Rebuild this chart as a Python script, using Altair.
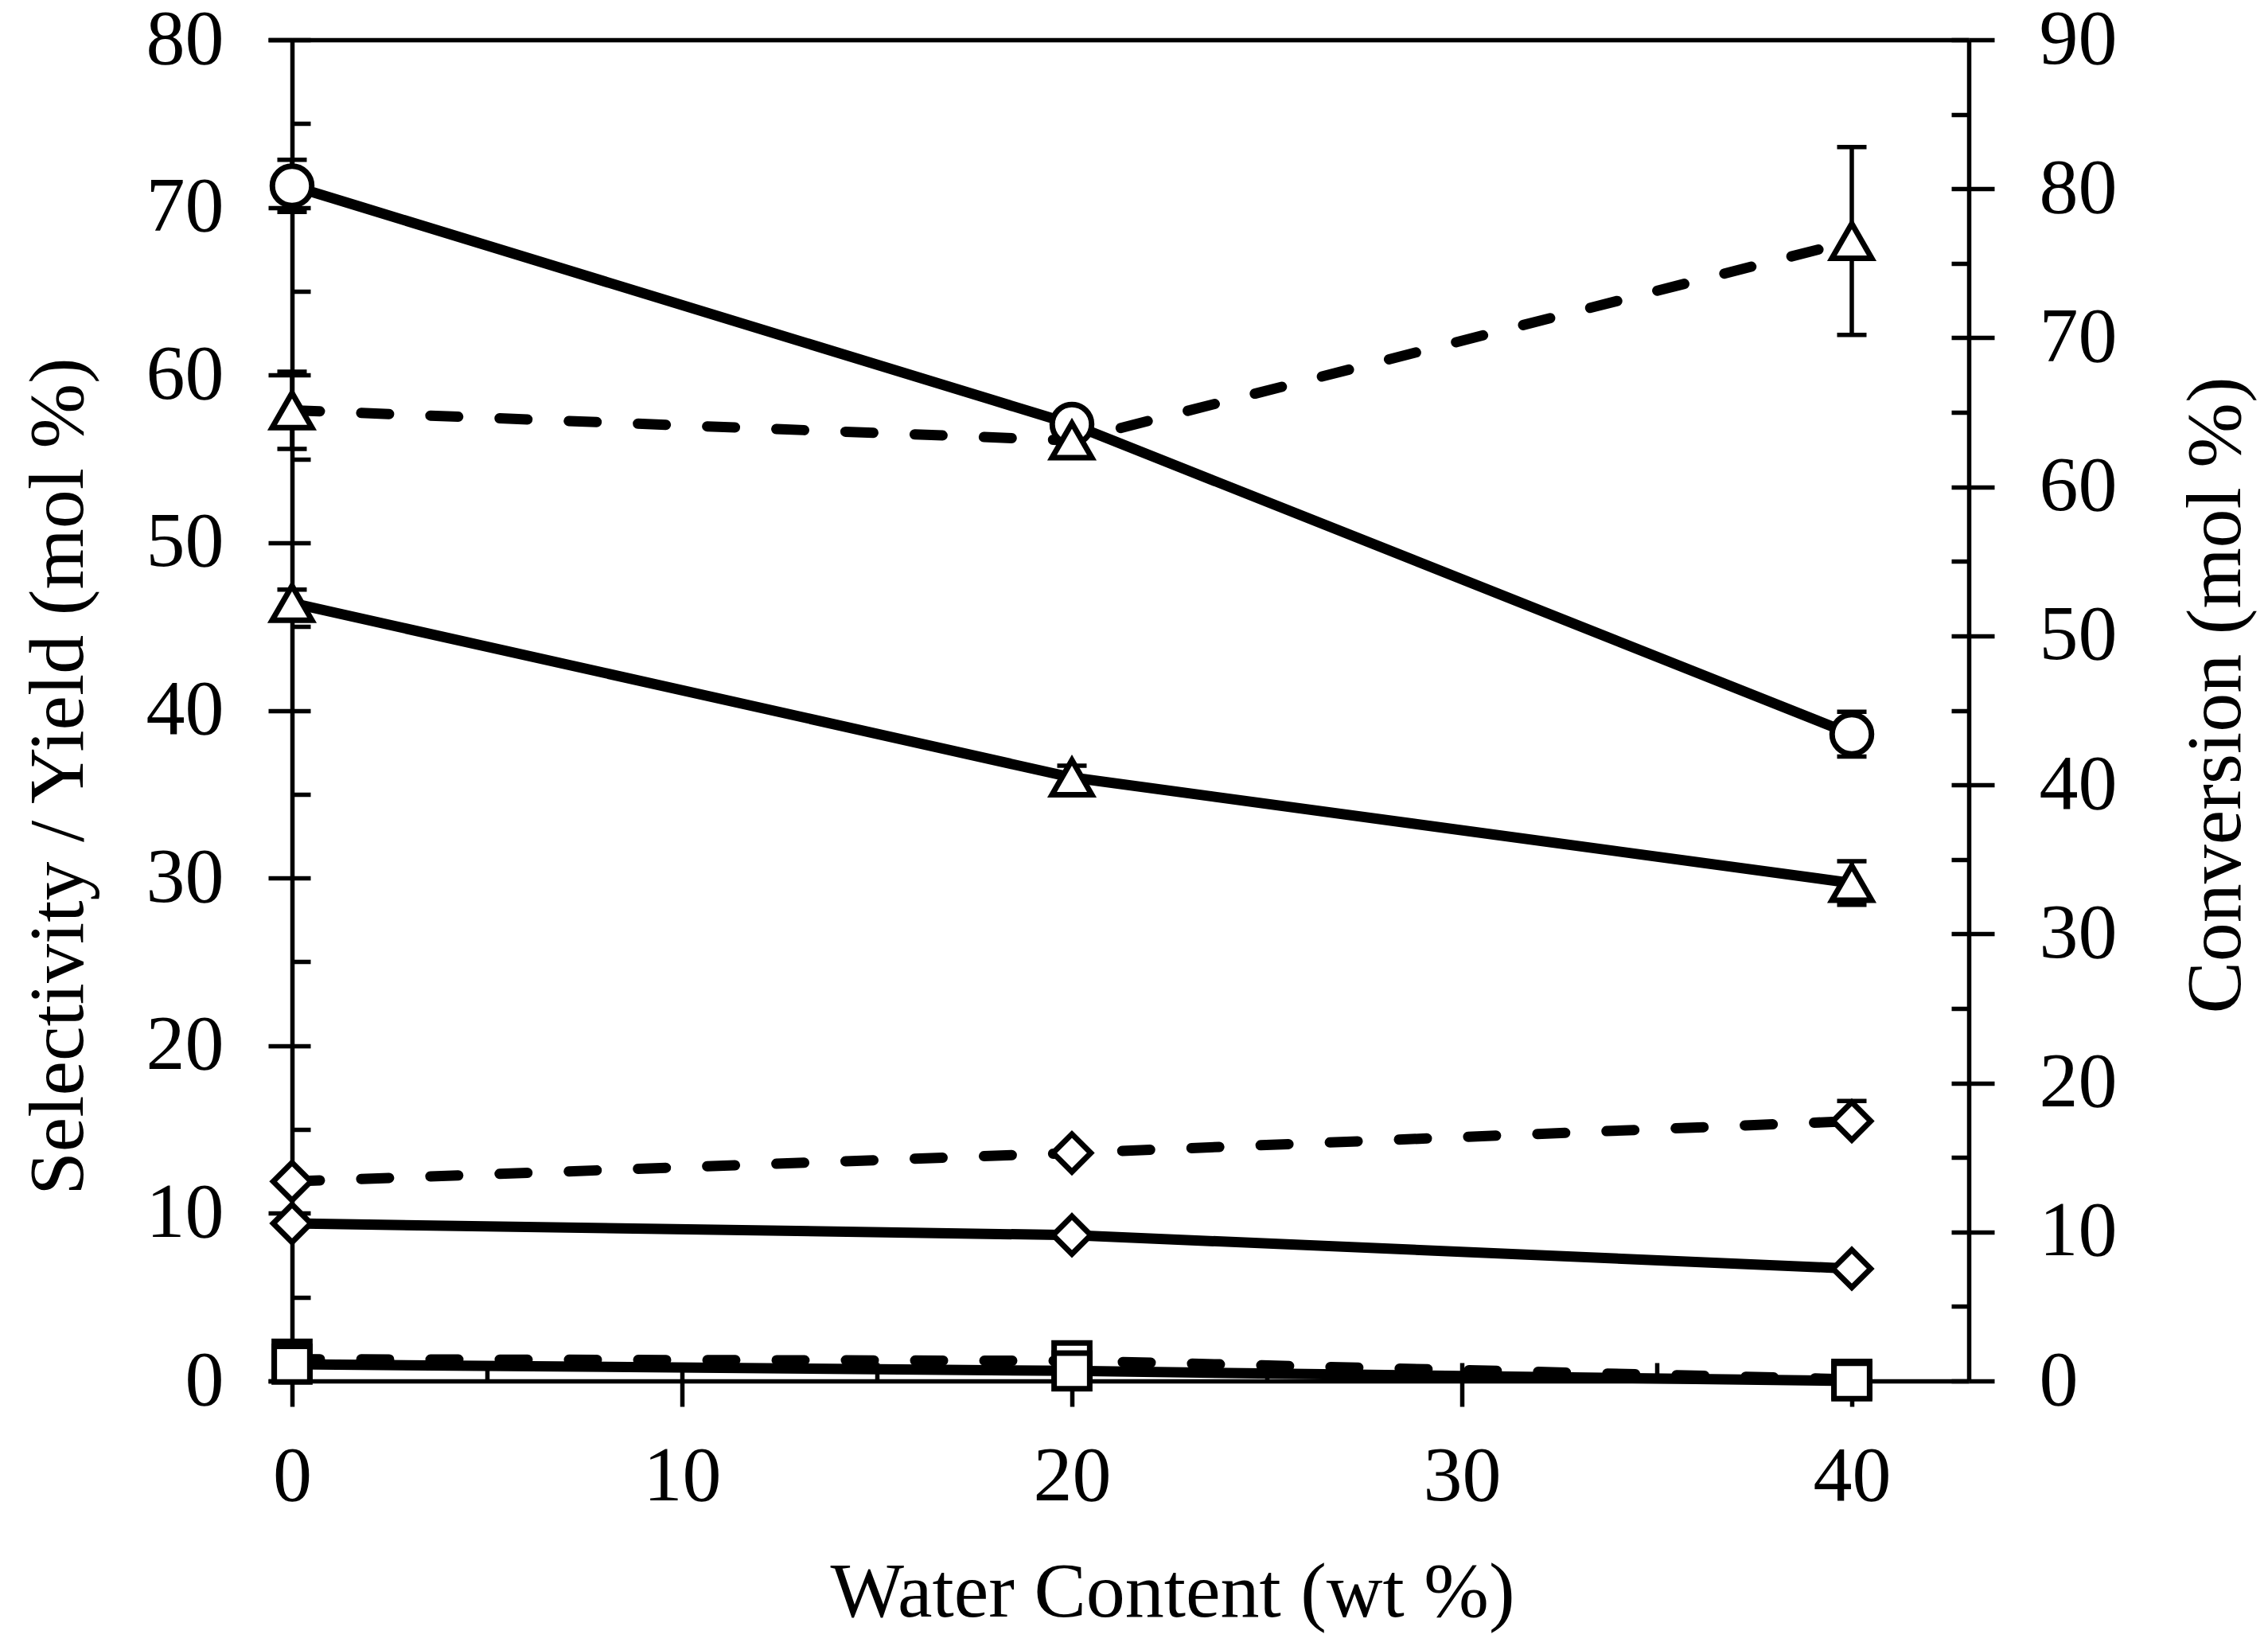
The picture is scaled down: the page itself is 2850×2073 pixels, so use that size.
import altair as alt
import pandas as pd

# ---------------- data ----------------
x_vals = [0, 20, 40]

# Conversion (right axis, mol %)
conversion = [80.2, 64.2, 43.4]
conversion_err_plus = [1.75, 0.0, 1.5]
conversion_err_minus = [1.75, 0.0, 1.5]

# Selectivity (dashed lines, left axis)
sel_triangle = [57.9, 56.1, 68.0]
sel_triangle_err_plus = [2.3, 0.0, 5.6]
sel_triangle_err_minus = [2.3, 0.0, 5.6]
sel_diamond = [11.9, 13.6, 15.5]
sel_diamond_err_plus = [0.0, 0.0, 1.2]
sel_diamond_err_minus = [0.0, 0.0, 0.0]
sel_square = [1.3, 1.2, 0.1]
sel_square_err_plus = [0.0, 0.0, 0.0]
sel_square_err_minus = [0.0, 0.0, 0.0]

# Yield (solid lines, left axis)
yld_triangle = [46.4, 36.0, 29.7]
yld_triangle_err_plus = [0.8, 0.7, 1.3]
yld_triangle_err_minus = [0.8, 0.7, 1.3]
yld_diamond = [9.4, 8.7, 6.7]
yld_diamond_err_plus = [0.0, 0.0, 0.0]
yld_diamond_err_minus = [0.0, 0.0, 0.0]
yld_square = [1.0, 0.6, 0.0]
yld_square_err_plus = [0.0, 0.0, 0.0]
yld_square_err_minus = [0.0, 0.0, 0.0]

left_ticks = list(range(0, 81, 10))
left_minor = list(range(0, 81, 5))
right_ticks = list(range(0, 91, 10))
right_minor = list(range(0, 91, 5))
x_ticks = [0, 10, 20, 30, 40]
x_minor = list(range(0, 41, 5))

x_title = "Water Content (wt %)"
left_title = "Selectivity / Yield (mol %)"
right_title = "Conversion (mol %)"

# ---------------- tables ----------------
series_defs = [
    ("Selectivity", "triangle", sel_triangle, sel_triangle_err_plus, sel_triangle_err_minus),
    ("Selectivity", "diamond", sel_diamond, sel_diamond_err_plus, sel_diamond_err_minus),
    ("Selectivity", "square", sel_square, sel_square_err_plus, sel_square_err_minus),
    ("Yield", "triangle", yld_triangle, yld_triangle_err_plus, yld_triangle_err_minus),
    ("Yield", "diamond", yld_diamond, yld_diamond_err_plus, yld_diamond_err_minus),
    ("Yield", "square", yld_square, yld_square_err_plus, yld_square_err_minus),
]


def error_tables(xs, vals, plus, minus):
    bars, caps = [], []
    for xv, v, ep, em in zip(xs, vals, plus, minus):
        if ep > 0 or em > 0:
            bars.append({"x": xv, "lo": v - em, "hi": v + ep})
        if ep > 0:
            caps.append({"x": xv, "y": v + ep})
        if em > 0:
            caps.append({"x": xv, "y": v - em})
    return bars, caps


rows, err_rows, cap_rows = [], [], []
for kind, marker, vals, ep, em in series_defs:
    for xv, v in zip(x_vals, vals):
        rows.append({"x": xv, "y": v, "kind": kind, "marker": marker,
                     "series": f"{kind}-{marker}"})
    b, c = error_tables(x_vals, vals, ep, em)
    err_rows += b
    cap_rows += c

left_df = pd.DataFrame(rows)
sel_df = left_df[left_df.kind == "Selectivity"]
yld_df = left_df[left_df.kind == "Yield"]
err_left = pd.DataFrame(err_rows)
cap_left = pd.DataFrame(cap_rows)

conv_df = pd.DataFrame({"x": x_vals, "y": conversion})
cb, cc = error_tables(x_vals, conversion, conversion_err_plus, conversion_err_minus)
err_right = pd.DataFrame(cb)
cap_right = pd.DataFrame(cc)

# ---------------- styling ----------------
FONT = "Liberation Serif"
FS = 98
LW = 5.5

XS = alt.Scale(domain=[-0.612, 43.0], nice=False, zero=False)
YL = alt.Scale(domain=[0, 80], nice=False)
YR = alt.Scale(domain=[0, 90], nice=False)


def axis(**kw):
    base = dict(grid=False, labelFlush=False, labelOverlap=False, labelBound=False,
                tickColor="black", domainColor="black", labelColor="black",
                titleColor="black", tickWidth=LW, domainWidth=LW,
                labelFont=FONT, labelFontSize=FS, titleFont=FONT,
                titleFontSize=FS, titleFontWeight="normal")
    base.update(kw)
    return alt.Axis(**base)


ax_bottom = axis(orient="bottom", values=x_ticks, tickSize=32, labelPadding=40,
                 title=x_title, titleX=1136, titleY=295,
                 titleBaseline="alphabetic", titleAlign="center")
ax_bottom_in = axis(orient="bottom", offset=-23, values=x_minor, tickSize=23,
                    domain=False, labels=False, title=None)
ax_top = axis(orient="top", ticks=False, labels=False, domain=True, title=None)
ax_left = axis(orient="left", offset=-30, values=left_ticks, tickSize=30,
               labelPadding=56, title=left_title, titleAngle=270, titleX=-264,
               titleY=925, titleBaseline="alphabetic", titleAlign="center")
ax_left_in = axis(orient="left", offset=-53, values=left_minor, tickSize=23,
                  domain=False, labels=False, title=None)
ax_right = axis(orient="right", values=right_ticks, tickSize=32, labelPadding=56,
                title=right_title, titleAngle=270, titleX=340, titleY=823,
                titleBaseline="alphabetic", titleAlign="center")
ax_right_in = axis(orient="right", offset=-22, values=right_minor, tickSize=22,
                   domain=False, labels=False, title=None)

shape_scale = alt.Scale(domain=["triangle", "diamond", "square"],
                        range=["triangle-up", "diamond", "square"])
size_scale = alt.Scale(domain=["triangle", "diamond", "square"],
                       range=[2500, 2000, 2550])

line_w = 13
marker_w = 7

yld_lines = alt.Chart(yld_df).mark_line(
    color="black", strokeWidth=line_w, strokeCap="round", strokeJoin="round"
).encode(
    x=alt.X("x:Q", scale=XS, axis=ax_bottom),
    y=alt.Y("y:Q", scale=YL, axis=ax_left),
    detail="series:N",
)

sel_lines = alt.Chart(sel_df).mark_line(
    color="black", strokeWidth=line_w, strokeCap="round", strokeJoin="round",
    strokeDash=[35, 52]
).encode(
    x=alt.X("x:Q", scale=XS, axis=ax_bottom_in),
    y=alt.Y("y:Q", scale=YL, axis=ax_left_in),
    detail="series:N",
)

conv_line = alt.Chart(conv_df).mark_line(
    color="black", strokeWidth=line_w, strokeCap="round", strokeJoin="round"
).encode(
    x=alt.X("x:Q", scale=XS, axis=ax_top),
    y=alt.Y("y:Q", scale=YR, axis=ax_right),
)

err_l = alt.Chart(err_left).mark_rule(color="black", strokeWidth=LW).encode(
    x=alt.X("x:Q", scale=XS, axis=None),
    y=alt.Y("lo:Q", scale=YL, axis=None),
    y2="hi:Q",
)
err_r = alt.Chart(err_right).mark_rule(color="black", strokeWidth=LW).encode(
    x=alt.X("x:Q", scale=XS, axis=None),
    y=alt.Y("lo:Q", scale=YR, axis=ax_right_in),
    y2="hi:Q",
)

cap_kw = dict(shape="M-1,0L1,0", size=1369, strokeWidth=LW, filled=False,
              color="black", opacity=1)
caps_l = alt.Chart(cap_left).mark_point(**cap_kw).encode(
    x=alt.X("x:Q", scale=XS, axis=None),
    y=alt.Y("y:Q", scale=YL, axis=None),
)
caps_r = alt.Chart(cap_right).mark_point(**cap_kw).encode(
    x=alt.X("x:Q", scale=XS, axis=None),
    y=alt.Y("y:Q", scale=YR, axis=None),
)

conv_pts = alt.Chart(conv_df).mark_point(
    shape="circle", size=2450, filled=True, fill="white", stroke="black",
    strokeWidth=marker_w, opacity=1
).encode(
    x=alt.X("x:Q", scale=XS, axis=None),
    y=alt.Y("y:Q", scale=YR, axis=None),
)

left_pts = alt.Chart(left_df).mark_point(
    filled=True, fill="white", stroke="black", strokeWidth=marker_w, opacity=1
).encode(
    x=alt.X("x:Q", scale=XS, axis=None),
    y=alt.Y("y:Q", scale=YL, axis=None),
    shape=alt.Shape("marker:N", scale=shape_scale, legend=None),
    size=alt.Size("marker:N", scale=size_scale, legend=None),
)

chart = alt.layer(
    yld_lines, sel_lines, conv_line, err_l, err_r, caps_l, caps_r,
    conv_pts, left_pts
).resolve_scale(
    y="independent"
).resolve_axis(
    x="independent", y="independent"
).properties(
    width=2137,
    height=1685,
    autosize=alt.AutoSizeParams(type="none"),
    padding={"left": 329, "top": 42, "right": 368, "bottom": 320},
    background="white",
).configure_view(stroke=None)

chart.save("out.html", embed_options={"renderer": "svg", "actions": False})
